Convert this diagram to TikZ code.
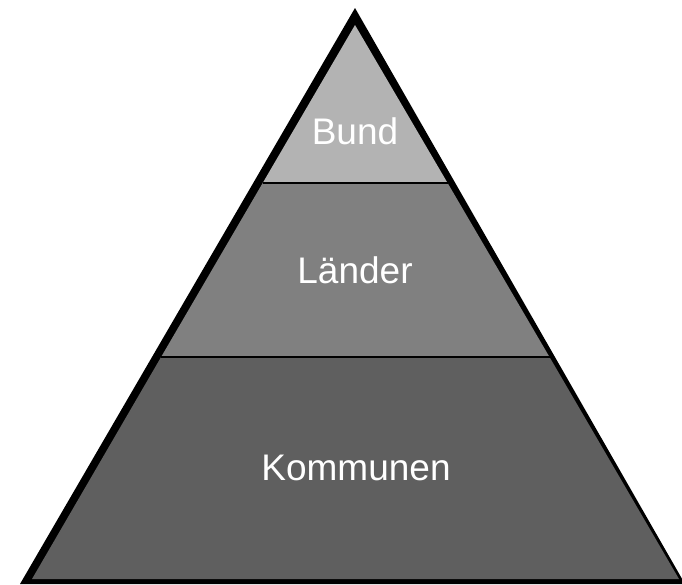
\documentclass[tikz,border=0pt]{standalone}
\usepackage{fontspec}
\setmainfont{Liberation Sans}
\definecolor{bundgray}{HTML}{B3B3B3}
\definecolor{laendergray}{HTML}{808080}
\definecolor{kommgray}{HTML}{5F5F5F}
\begin{document}
\begin{tikzpicture}[x=1pt,y=-1pt,
  label/.style={text=white,font=\fontsize{37}{41}\selectfont,inner sep=0pt},
  sep/.style={draw=black,line width=2.5pt}]
\useasboundingbox (0,0) rectangle (682,584);
% outer black triangle
\coordinate (oA) at (355,8);
\coordinate (oL) at (20,584);
\coordinate (oR) at (685,584);
\fill[black] (oA) -- (oL) -- (oR) -- cycle;
% inner band corners
\coordinate (iA) at (355,25);
\coordinate (b1L) at (262.7,183);
\coordinate (b1R) at (447.6,183);
\coordinate (b2L) at (161.1,357);
\coordinate (b2R) at (549.5,357);
\coordinate (iL) at (32,579);
\coordinate (iR) at (679,579);
\fill[bundgray] (iA) -- (b1L) -- (b1R) -- cycle;
\fill[laendergray] (b1L) -- (b2L) -- (b2R) -- (b1R) -- cycle;
\fill[kommgray] (b2L) -- (iL) -- (iR) -- (b2R) -- cycle;
\draw[sep] (b1L) -- (b1R);
\draw[sep] (b2L) -- (b2R);
\node[label] (bund) at (355,131) {Bund};
\node[label] (laender) at (355,270) {Länder};
\node[label] (komm) at (356,468) {Kommunen};
\end{tikzpicture}
\end{document}
